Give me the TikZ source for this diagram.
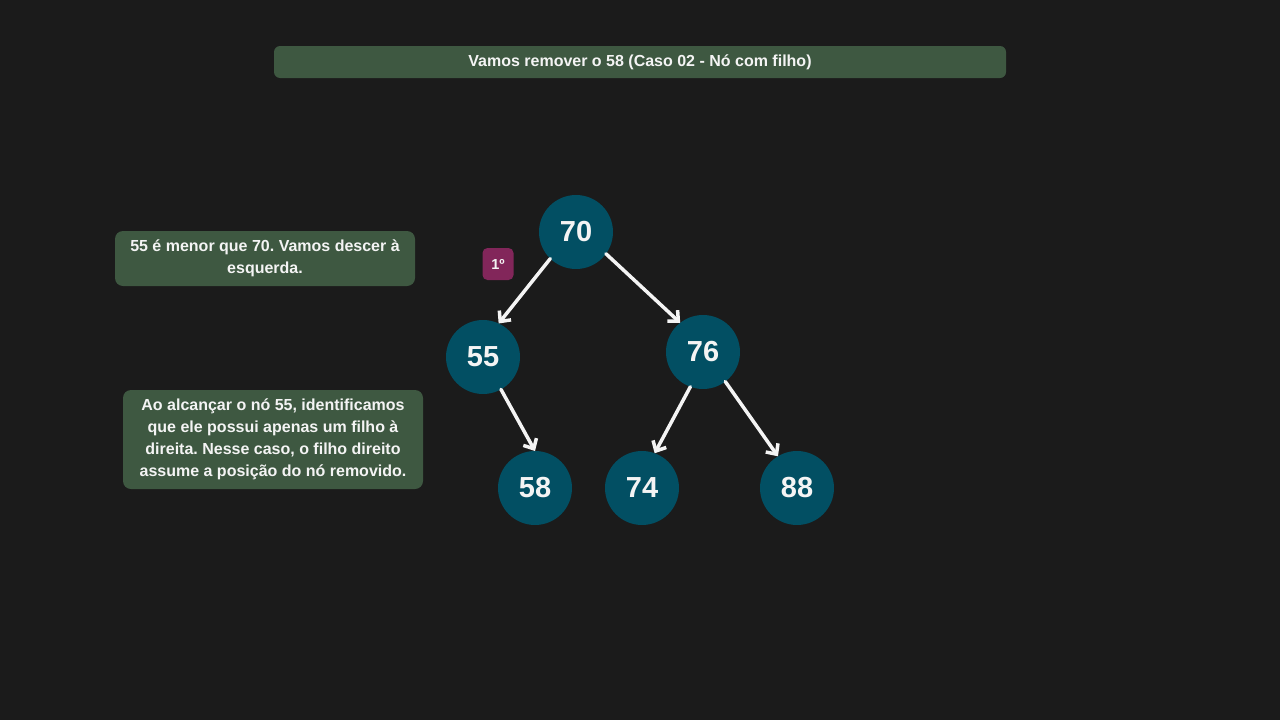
\documentclass[tikz,border=0pt]{standalone}
\usepackage{fontspec}
\setmainfont{Liberation Sans}
\usetikzlibrary{arrows.meta}
\frenchspacing
\definecolor{bgc}{HTML}{1B1B1B}
\definecolor{boxg}{HTML}{3E5841}
\definecolor{circc}{HTML}{024F63}
\definecolor{badgec}{HTML}{82265A}
\definecolor{txtc}{HTML}{F4F4F4}
\tikzset{
  bst/.style={circle, fill=circc, minimum size=74pt, inner sep=0pt, outer sep=0pt,
    text=txtc, font=\fontsize{29}{30}\selectfont\bfseries},
  infobox/.style={fill=boxg, rounded corners=8pt, inner sep=0pt, outer sep=0pt,
    text=txtc, align=center, font=\fontsize{16}{22}\selectfont\bfseries},
  edge/.style={draw=txtc, line width=3.5pt, line cap=round,
    -{Straight Barb[length=8pt,width=15pt,line width=3.5pt]}},
}
\begin{document}
\begin{tikzpicture}[x=1pt,y=-1pt]
\fill[bgc] (0,0) rectangle (1280,720);
\useasboundingbox (0,0) rectangle (1280,720);

\node[infobox, rounded corners=6pt, minimum width=732pt, minimum height=32pt, font=\fontsize{16}{20}\selectfont\bfseries] (title) at (640,62) {Vamos remover o 58 (Caso 02 - Nó com filho)};

\node[infobox, minimum width=300pt, minimum height=55pt] (info1) at (265,258.5) {55 é menor que 70. Vamos descer à\\esquerda.};
\node[infobox, minimum width=300pt, minimum height=99pt] (info2) at (273,439.5) {Ao alcançar o nó 55, identificamos\\que ele possui apenas um filho à\\direita. Nesse caso, o filho direito\\assume a posição do nó removido.};

\node[fill=badgec, rounded corners=5pt, minimum width=31pt, minimum height=32pt, inner sep=0pt, text=txtc, font=\fontsize{14.5}{16}\selectfont\bfseries] (badge) at (498,264) {1º};

\node[bst] (n70) at (576,232) {70};
\node[bst] (n55) at (483,357) {55};
\node[bst] (n76) at (703,352) {76};
\node[bst] (n58) at (535,488) {58};
\node[bst] (n74) at (642,488) {74};
\node[bst] (n88) at (797,488) {88};

\draw[edge] (n70.226) -- (n55.65);
\draw[edge] (n70.-36) -- (n76.128);
\draw[edge] (n55.-61) -- (n58.north);
\draw[edge] (n76.-110) -- (n74.70);
\draw[edge] (n76.-53) -- (n88.121);
\end{tikzpicture}
\end{document}
